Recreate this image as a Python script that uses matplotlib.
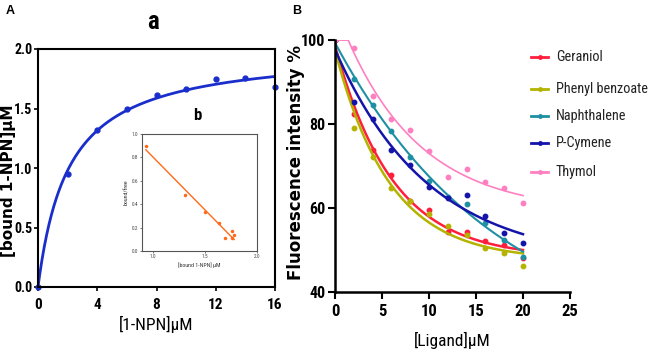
import numpy as np
import matplotlib
matplotlib.use("Agg")
import matplotlib.pyplot as plt
from matplotlib.lines import Line2D

COND = ['Roboto Condensed', 'Noto Sans', 'DejaVu Sans']
plt.rcParams['font.family'] = COND
plt.rcParams['font.stretch'] = 'condensed'

# ---------------- data: panel A (saturation binding) ----------------
npn_conc = [0, 2, 4, 6, 8, 10, 12, 14, 16]
npn_bound = [0.0, 0.95, 1.32, 1.50, 1.61, 1.66, 1.75, 1.76, 1.68]
a_xticks = [0, 4, 8, 12, 16]
a_yticks = [0.0, 0.5, 1.0, 1.5, 2.0]

# ---------------- data: inset b (Scatchard) ----------------
scat_bound = [0.93, 1.31, 1.50, 1.63, 1.69, 1.76, 1.78, 1.76]
scat_ratio = [0.90, 0.48, 0.33, 0.24, 0.11, 0.17, 0.14, 0.11]
inset_xticks = [1.0, 1.5, 2.0]
inset_yticks = [0.0, 0.2, 0.4, 0.6, 0.8, 1.0]

# ---------------- data: panel B (competitive binding) ----------------
ligand_conc = [0, 2, 4, 6, 8, 10, 12, 14, 16, 18, 20]
ligand_names = ["Geraniol", "Phenyl benzoate", "Naphthalene", "P-Cymene", "Thymol"]
geraniol = [100, 82.3, 73.8, 67.9, 61.7, 59.5, 54.2, 54.2, 52.2, 51.2, 48.1]
phenyl_benzoate = [100, 79.0, 72.2, 64.8, 61.6, 58.5, 55.6, 53.5, 50.4, 49.4, 46.3]
naphthalene = [100, 90.6, 84.5, 78.3, 72.2, 66.5, 62.7, 61.0, 56.5, 52.4, 48.3]
p_cymene = [100, 85.3, 81.1, 73.7, 70.2, 65.1, 62.5, 63.1, 58.2, 54.0, 51.6]
thymol = [100, 98.2, 86.7, 81.3, 78.6, 73.6, 67.5, 69.4, 66.3, 64.8, 61.3]
b_series = [geraniol, phenyl_benzoate, naphthalene, p_cymene, thymol]
b_colors = ["#ff1f3d", "#b3b300", "#1f8fa3", "#1414aa", "#ff80c0"]
b_lw = [1.8, 1.8, 1.5, 1.8, 1.2]
lig_xticks = [0, 5, 10, 15, 20, 25]
lig_yticks = [40, 60, 80, 100]


def fit_binding(x, y):
    x = np.asarray(x, float); y = np.asarray(y, float)
    best = None
    for kd in np.linspace(0.2, 10, 2000):
        f = x / (kd + x)
        bmax = (f @ y) / (f @ f)
        r = np.sum((y - bmax * f) ** 2)
        if best is None or r < best[0]:
            best = (r, kd, bmax)
    return best[1], best[2]


def fit_decay(x, y, allow_delay=False):
    x = np.asarray(x, float); y = np.asarray(y, float)
    best = None
    x0s = np.linspace(0, 3, 61) if allow_delay else [0.0]
    for x0 in x0s:
        for k in np.linspace(0.01, 0.6, 300):
            e = np.exp(-k * np.clip(x - x0, 0, None))
            A = np.column_stack([1 - e, e])
            coef, *_ = np.linalg.lstsq(A, y, rcond=None)
            r = np.sum((A @ coef - y) ** 2)
            if best is None or r < best[0]:
                best = (r, x0, k, coef)
    return best[1:]


W, H = 653, 353
fig = plt.figure(figsize=(W / 100, H / 100), dpi=100)


def fx(px):
    return px / W


def fy(py):
    return 1 - py / H


# ---------------- panel A ----------------
axA = fig.add_axes([fx(38), fy(287), 237 / W, 238 / H])
kd, bmax = fit_binding(npn_conc, npn_bound)
xs = np.linspace(0, 16, 300)
axA.plot(xs, bmax * xs / (kd + xs), color="#1a2ecc", lw=2)
axA.plot(npn_conc, npn_bound, 'o', color="#1a2ecc", ms=3.5, clip_on=False)
axA.set_xlim(0, 16)
axA.set_ylim(0, 2.0)
axA.set_xticks(a_xticks)
axA.set_yticks(a_yticks)
axA.set_yticklabels([f"{v:.1f}" for v in a_yticks])
for s in axA.spines.values():
    s.set_linewidth(1.5)
axA.tick_params(direction='out', length=3, width=1.2, labelsize=10, pad=1)
axA.tick_params(axis='x', labelsize=11, pad=5)
for lab in axA.get_xticklabels() + axA.get_yticklabels():
    lab.set_fontweight('bold')
axA.set_xlabel("[1-NPN]μM", fontsize=12.5, labelpad=3)
fig.text(fx(8.5), fy(181), "[bound 1-NPN]μM", rotation=90, fontsize=11,
         fontweight='bold', family=['DejaVu Sans'], fontstretch='normal',
         ha='center', va='center')

fig.text(fx(153), fy(22), "a", fontsize=18, fontweight='bold', ha='center', va='center')
fig.text(fx(197), fy(115), "b", fontsize=12, fontweight='bold', ha='center', va='center')
fig.text(fx(10), fy(11), "A", fontsize=9, fontweight='bold', ha='center', va='center',
         family=['Liberation Sans', 'DejaVu Sans'], fontstretch='normal')
fig.text(fx(297), fy(11), "B", fontsize=9, fontweight='bold', ha='center', va='center',
         family=['Liberation Sans', 'DejaVu Sans'], fontstretch='normal')

# ---------------- inset b ----------------
axI = fig.add_axes([fx(141.7), fy(251), 115.3 / W, 117 / H])
p = np.polyfit(scat_bound, scat_ratio, 1)
xl = np.array([min(scat_bound), max(scat_bound)])
axI.plot(xl, np.polyval(p, xl), color="#ff6a1a", lw=1.0)
axI.plot(scat_bound, scat_ratio, 'o', color="#ff6a1a", ms=1.5)
axI.set_xlim(0.89, 2.0)
axI.set_ylim(0, 1.0)
axI.set_xticks(inset_xticks)
axI.set_yticks(inset_yticks)
axI.set_xticklabels([f"{v:.1f}" for v in inset_xticks])
axI.set_yticklabels([f"{v:.1f}" for v in inset_yticks])
for s in axI.spines.values():
    s.set_linewidth(0.8)
    s.set_color("#555555")
axI.tick_params(direction='out', length=1.5, width=0.5, labelsize=3.8, pad=1, colors="#444444")
axI.set_xlabel("[bound 1-NPN] μM", fontsize=4.2, labelpad=2, color="#333333")
axI.set_ylabel("bound/free", fontsize=4.2, labelpad=2, color="#333333")

# ---------------- panel B ----------------
axB = fig.add_axes([fx(335), fy(292), 235 / W, 252 / H])
xs = np.linspace(0, 20, 400)
for name, ys, c, lw in zip(ligand_names, b_series, b_colors, b_lw):
    x0, k, (plat, y0) = fit_decay(ligand_conc, ys, allow_delay=(name == "Thymol"))
    e = np.exp(-k * np.clip(xs - x0, 0, None))
    axB.plot(xs, plat * (1 - e) + y0 * e, color=c, lw=lw)
    axB.plot(ligand_conc, ys, 'o', color=c, ms=3.2)
axB.set_xlim(0, 25)
axB.set_ylim(40, 100)
axB.set_xticks(lig_xticks)
axB.set_yticks(lig_yticks)
axB.spines['top'].set_visible(False)
axB.spines['right'].set_visible(False)
axB.spines['left'].set_linewidth(1.8)
axB.spines['bottom'].set_linewidth(1.8)
axB.tick_params(direction='out', length=5, width=1.5, labelsize=11.5, pad=2)
axB.tick_params(axis='x', labelsize=12, pad=4)
for lab in axB.get_xticklabels() + axB.get_yticklabels():
    lab.set_fontweight('bold')
axB.set_xlabel("[Ligand]μM", fontsize=12.5, labelpad=9)
fig.text(fx(296), fy(162), "Fluorescence intensity %", rotation=90, fontsize=12,
         fontweight='bold', family=['DejaVu Sans'], fontstretch='normal',
         ha='center', va='center')

# legend (manual)
leg_y = [57, 89, 116, 143, 172]
for name, c, yy in zip(ligand_names, b_colors, leg_y):
    yf = fy(yy)
    fig.add_artist(Line2D([fx(531), fx(548)], [yf, yf], color=c, lw=2,
                          transform=fig.transFigure))
    fig.add_artist(Line2D([fx(539.5)], [yf], color=c, marker='o', ms=2.5,
                          transform=fig.transFigure))
    fig.text(fx(556), yf, name, fontsize=10.3, va='center', ha='left', color="#222222")

fig.savefig("out.png", dpi=100)
